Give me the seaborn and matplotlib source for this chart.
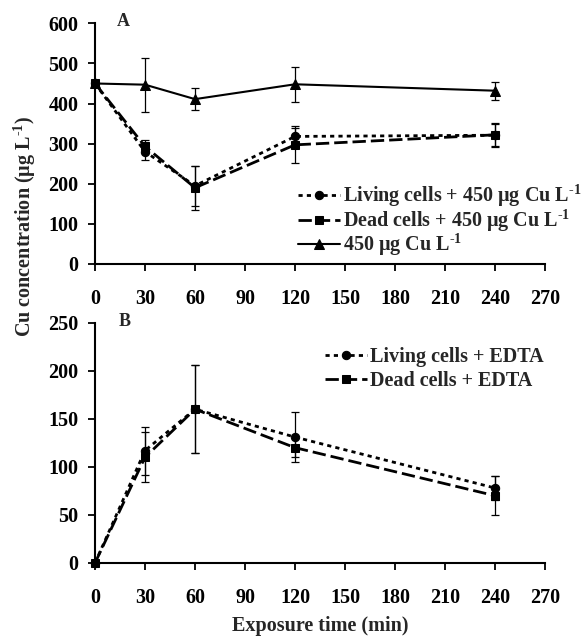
import numpy as np
import pandas as pd
import matplotlib
matplotlib.use("Agg")
import matplotlib.pyplot as plt
import seaborn as sns

# exposure times (min)
timePoints = [0, 30, 60, 120, 240]

# panel A: Cu in medium with 450 ug/L Cu
livingCuMean = [450, 280, 195, 318, 321]
livingCuErr = [0, 22, 50, 22, 28]
deadCuMean = [450, 293, 190, 297, 322]
deadCuErr = [0, 15, 55, 46, 30]
controlCuMean = [450, 447, 411, 448, 432]
controlCuErr = [0, 67, 28, 44, 22]

# panel B: Cu released with EDTA
livingEdtaMean = [0, 117, 160, 131, 78]
livingEdtaErr = [0, 25, 46, 26, 12]
deadEdtaMean = [0, 110, 160, 120, 70]
deadEdtaErr = [0, 26, 46, 10, 20]

xTicks = [0, 30, 60, 90, 120, 150, 180, 210, 240, 270]

sns.set_theme(style="ticks")
plt.rcParams['font.family'] = ['Liberation Serif', 'DejaVu Serif']
plt.rcParams['font.weight'] = 'bold'
plt.rcParams['mathtext.fontset'] = 'custom'
plt.rcParams['mathtext.bf'] = 'Liberation Serif:bold'
plt.rcParams['mathtext.rm'] = 'Liberation Serif:bold'
plt.rcParams['mathtext.default'] = 'bf'

fontSize = 14.5

fig = plt.figure(figsize=(5.84, 6.37), dpi=100)
axA = fig.add_axes([0.1627, 0.5856, 0.7705, 0.3778])
axB = fig.add_axes([0.1627, 0.1162, 0.7705, 0.3772])

dotted = (1.5, 1.5)
longDash = (4.8, 1.8)


def drawSeries(ax, mean, err, marker, dashes, label, ms, lw):
    df = pd.DataFrame({'time': timePoints, 'conc': mean})
    eb = ax.errorbar(timePoints, mean, yerr=err, fmt='none', ecolor='black',
                     elinewidth=0.9, capsize=3, capthick=0.9, zorder=2)
    for art in eb.lines[1] + eb.lines[2]:
        art.set_clip_on(False)
    sns.lineplot(data=df, x='time', y='conc', ax=ax, color='black',
                 marker=marker, markersize=ms, markeredgecolor='black',
                 linewidth=lw, label=label, zorder=3)
    ln = ax.get_lines()[-1]
    ln.set_clip_on(False)
    if dashes is None:
        ln.set_linestyle('-')
    else:
        ln.set_dashes(dashes)


cuLabel = r'450 μg Cu L$^{\text{-1}}$'
drawSeries(axA, livingCuMean, livingCuErr, 'o', dotted,
           'Living cells + ' + cuLabel, 6, 2)
drawSeries(axA, deadCuMean, deadCuErr, 's', longDash,
           'Dead cells + ' + cuLabel, 6, 2)
drawSeries(axA, controlCuMean, controlCuErr, '^', None,
           cuLabel, 6.5, 1.5)

drawSeries(axB, livingEdtaMean, livingEdtaErr, 'o', dotted,
           'Living cells + EDTA', 6, 2)
drawSeries(axB, deadEdtaMean, deadEdtaErr, 's', longDash,
           'Dead cells + EDTA', 6, 2)

axA.set_ylim(0, 600)
axA.set_yticks([0, 100, 200, 300, 400, 500, 600])
axB.set_ylim(0, 250)
axB.set_yticks([0, 50, 100, 150, 200, 250])

for ax in (axA, axB):
    ax.set_xlim(0, 270)
    ax.set_xticks(xTicks)
    ax.set_xlabel('')
    ax.set_ylabel('')
    sns.despine(ax=ax)
    for s in ('left', 'bottom'):
        ax.spines[s].set_linewidth(1.5)
        ax.spines[s].set_color('black')
    ax.tick_params(axis='both', direction='out', length=5, width=1.3,
                   colors='black', labelsize=fontSize)
    ax.tick_params(axis='x', pad=13)
    ax.tick_params(axis='y', pad=7)
    for lab in ax.get_xticklabels() + ax.get_yticklabels():
        lab.set_fontweight('bold')

axA.text(13, 604, 'A', fontsize=13, fontweight='bold', va='center', ha='left')
axB.text(14, 251, 'B', fontsize=13, fontweight='bold', va='center', ha='left')

legA = axA.legend(loc='upper left', bbox_to_anchor=(0.433, 0.37), frameon=False,
                  fontsize=fontSize, handlelength=2.1, handletextpad=0.15,
                  labelspacing=-0.08, borderaxespad=0)
legB = axB.legend(loc='upper left', bbox_to_anchor=(0.493, 0.932), frameon=False,
                  fontsize=fontSize, handlelength=2.1, handletextpad=0.15,
                  labelspacing=0.2, borderaxespad=0)
for leg in (legA, legB):
    for t in leg.get_texts():
        t.set_fontweight('bold')

axB.set_xlabel('Exposure time (min)', fontsize=fontSize, fontweight='bold', labelpad=6)
fig.text(0.043, 0.644, r'Cu concentration (μg L$^{\text{-1}}$)', rotation=90,
         fontsize=fontSize, fontweight='bold', ha='center', va='center')

fig.savefig('out.png', dpi=100, facecolor='white')
